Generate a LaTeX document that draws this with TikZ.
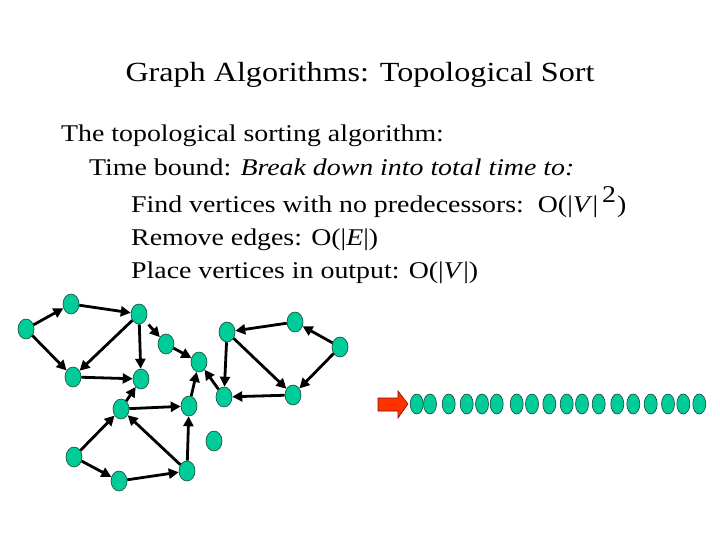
\documentclass[tikz,border=0pt]{standalone}
\usepackage{fontspec}
\setmainfont{Liberation Serif}[FakeStretch=1.16]
\usetikzlibrary{arrows.meta,shapes.geometric}
\definecolor{vgreen}{RGB}{0,204,153}
\definecolor{vedge}{RGB}{20,70,50}
\definecolor{vred}{RGB}{255,51,0}
\definecolor{vredd}{RGB}{120,20,0}
\begin{document}
\begin{tikzpicture}[x=1pt,y=-1pt,
 vert/.style={ellipse,draw=vedge,line width=0.6pt,fill=vgreen,minimum width=16pt,minimum height=20pt,inner sep=0pt},
 outv/.style={vert,minimum width=13pt},
 edgearrow/.style={draw=black,line width=2.8pt,-{Triangle[length=10pt,width=10pt]}},
 txt/.style={anchor=base west,inner sep=0pt,font=\fontsize{24}{28}\selectfont}]
\useasboundingbox (0,0) rectangle (720,540);
% title and text
\node[anchor=base,inner sep=0pt,font=\fontsize{27.7}{32}\selectfont] (title) at (360,82) {Graph Algorithms: Topological Sort};
\node[txt] (l1) at (61,142) {The topological sorting algorithm:};
\node[txt] (l2) at (89,176) {Time bound: \textit{Break down into total time to:}};
\node[txt] (l3) at (131,213) {Find vertices with no predecessors:\ \ O(|\textit{V}|\hspace{4pt}\raisebox{10pt}{2}\hspace{1pt})};
\node[txt] (l4) at (131,245) {Remove edges: O(|\textit{E}|)};
\node[txt] (l5) at (131,278) {Place vertices in output: O(|\textit{V}|)};
% graph vertices
\node[vert] (A) at (26,329) {};
\node[vert] (B) at (71,304) {};
\node[vert] (C) at (139,314) {};
\node[vert] (D) at (166,344) {};
\node[vert] (E) at (199,362) {};
\node[vert] (F) at (73,377) {};
\node[vert] (G) at (141,379) {};
\node[vert] (H) at (121,409) {};
\node[vert] (I) at (189,406) {};
\node[vert] (J) at (227,332) {};
\node[vert] (K) at (295,322) {};
\node[vert] (L) at (340,347) {};
\node[vert] (M) at (293,395) {};
\node[vert] (N) at (224,397) {};
\node[vert] (O) at (214,441) {};
\node[vert] (P) at (74,457) {};
\node[vert] (Q) at (119,481) {};
\node[vert] (R) at (187,471) {};
% edges
\draw[edgearrow] (A) -- (B);
\draw[edgearrow] (B) -- (C);
\draw[edgearrow] (A) -- (F);
\draw[edgearrow] (C) -- (F);
\draw[edgearrow] (C) -- (G);
\draw[edgearrow] (F) -- (G);
\draw[edgearrow,shorten <=5pt] (C) -- (D);
\draw[edgearrow] (D) -- (E);
\draw[edgearrow] (H) -- (G);
\draw[edgearrow] (H) -- (I);
\draw[edgearrow] (R) -- (H);
\draw[edgearrow] (P) -- (H);
\draw[edgearrow] (P) -- (Q);
\draw[edgearrow] (Q) -- (R);
\draw[edgearrow] (R) -- (I);
\draw[edgearrow] (I) -- (E);
\draw[edgearrow] (N) -- (E);
\draw[edgearrow] (J) -- (N);
\draw[edgearrow] (J) -- (M);
\draw[edgearrow] (K) -- (J);
\draw[edgearrow] (L) -- (K);
\draw[edgearrow] (L) -- (M);
\draw[edgearrow] (M) -- (N);
% output arrow
\filldraw[fill=vred,draw=vredd,line width=0.6pt] (378,398) -- (398,398) -- (398,391) -- (408,404) -- (398,418) -- (398,411) -- (378,411) -- cycle;
% output row
\foreach \x [count=\i] in {416.7,430,448.7,466.7,482,496.7,516.7,532,549.3,566.7,582,598.7,617.3,633.3,650.7,668,683.3,699.3}
  \node[outv] (o\i) at (\x,404) {};
\end{tikzpicture}
\end{document}
